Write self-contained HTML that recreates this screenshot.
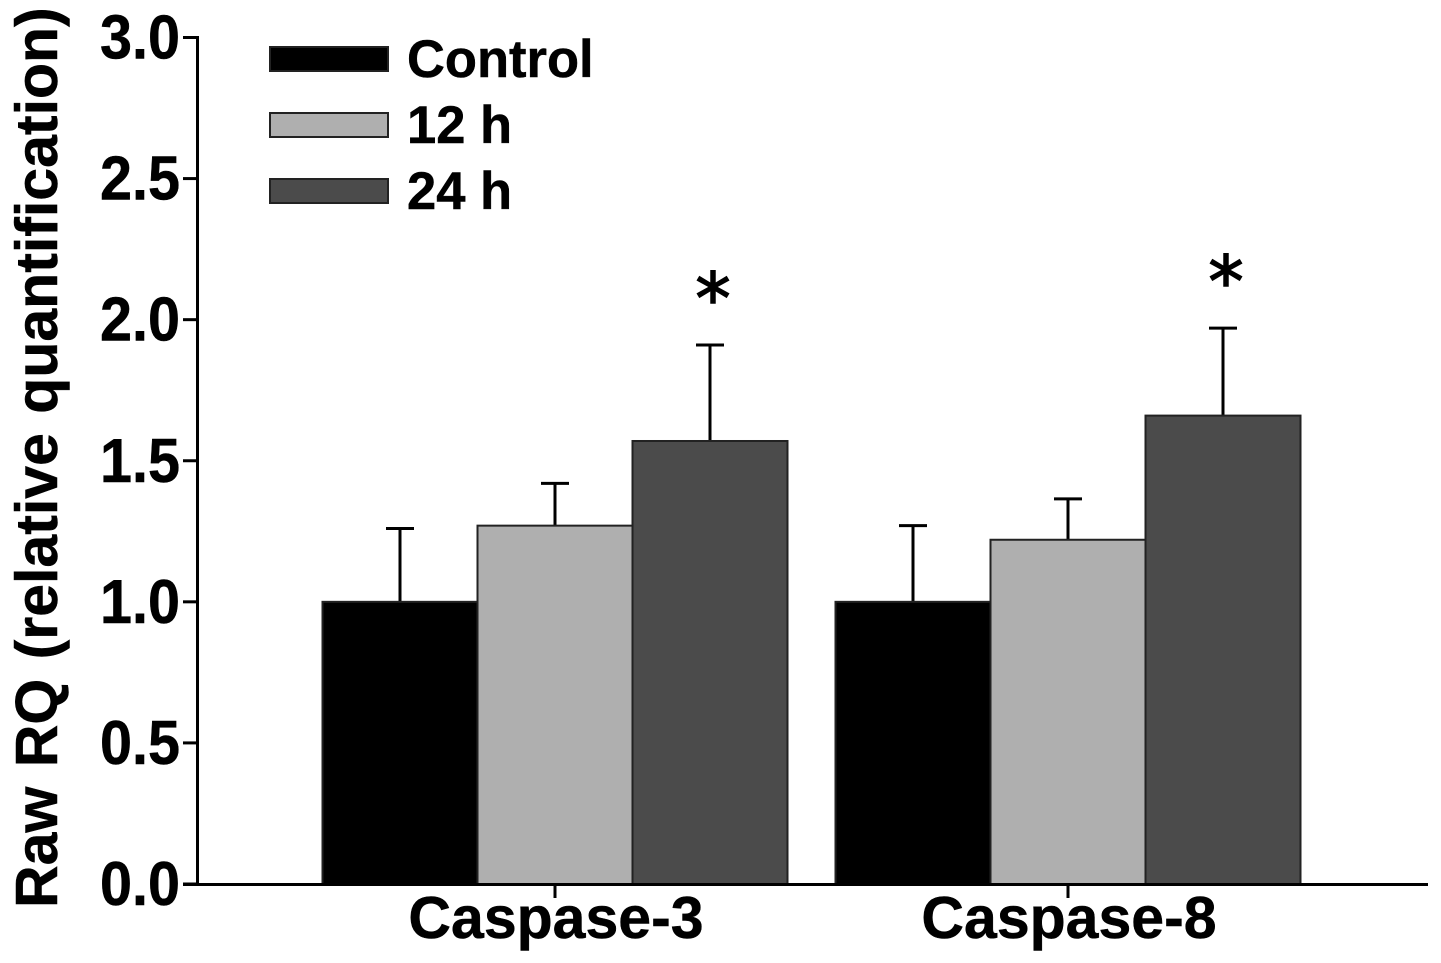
<!DOCTYPE html>
<html>
<head>
<meta charset="utf-8">
<title>Raw RQ chart</title>
<style>
html,body{margin:0;padding:0;background:#fff;width:1441px;height:963px;overflow:hidden}
svg{display:block}
text{font-family:"Liberation Sans",Arial,sans-serif;font-weight:bold;fill:#000;stroke:#000;stroke-width:0.5px}
</style>
</head>
<body>
<svg id="chart" xmlns="http://www.w3.org/2000/svg" width="1441" height="963" viewBox="0 0 1441 963"></svg>
<script>
const categories = ['Caspase-3', 'Caspase-8'];
const seriesNames = ['Control', '12 h', '24 h'];
const controlValues = [1.0, 1.0];
const h12Values = [1.27, 1.22];
const h24Values = [1.57, 1.66];
const controlErrors = [0.26, 0.27];
const h12Errors = [0.15, 0.145];
const h24Errors = [0.34, 0.31];
const significant = [true, true];
const yTicks = ['0.0', '0.5', '1.0', '1.5', '2.0', '2.5', '3.0'];
const yAxisTitle = 'Raw RQ (relative quantification)';

const svg = document.getElementById('chart');
const NS = 'http://www.w3.org/2000/svg';
const fills = ['#000000', '#afafaf', '#4b4b4b'];
const values = [controlValues, h12Values, h24Values];
const errors = [controlErrors, h12Errors, h24Errors];

function yScale(v) { return 884 - v * (884 - 37.5) / 3; }
function groupCenter(i) { return 555 + i * 513; }
function barLeft(g, s) { return groupCenter(g) - 232.5 + s * 155; }

function mk(tag, attrs, text) {
  const el = document.createElementNS(NS, tag);
  for (const k in attrs) el.setAttribute(k, attrs[k]);
  if (text !== undefined) el.textContent = text;
  svg.appendChild(el);
  return el;
}

// bars and error bars
categories.forEach(function (cat, g) {
  values.forEach(function (vals, s) {
    const x = barLeft(g, s);
    const cx = x + 77.5;
    const top = yScale(vals[g]);
    const errTop = yScale(vals[g] + errors[s][g]);
    const stem = mk('line', {x1: cx, x2: cx, y1: top, y2: errTop, stroke: '#000', 'stroke-width': 3});
    
    
    const cap = mk('line', {x1: cx - 14, x2: cx + 14, y1: errTop, y2: errTop, stroke: '#000', 'stroke-width': 3});
    
    
    const bar = mk('rect', {x: x, y: top, width: 155, height: 884 - top, fill: fills[s], stroke: '#222', 'stroke-width': 2});
    
    
  });
  if (significant[g]) {
    const topV = h24Values[g] + h24Errors[g];
    const star = mk('text', {x: groupCenter(g) + 158, y: yScale(topV) - 22, 'text-anchor': 'middle', 'font-size': 70, style: 'font-family:\'DejaVu Sans\',sans-serif;font-weight:normal;stroke-width:1.6px'}, '*');
    
    
  }
});

// axes
const yAxis = mk('line', {x1: 197.5, x2: 197.5, y1: 36, y2: 885.5, stroke: '#000', 'stroke-width': 3});


const xAxis = mk('line', {x1: 183, x2: 1428, y1: 884.5, y2: 884.5, stroke: '#000', 'stroke-width': 3});



yTicks.forEach(function (t) {
  const y = yScale(parseFloat(t));
  const tick = mk('line', {x1: 183, x2: 197, y1: y, y2: y, stroke: '#000', 'stroke-width': 3});
  
  
  const label = mk('text', {x: 180, y: y + 21, 'text-anchor': 'end', 'font-size': 62, textLength: 80, lengthAdjust: 'spacingAndGlyphs'}, t);
  
  
});

categories.forEach(function (cat, g) {
  const cx = groupCenter(g);
  const tick = mk('line', {x1: cx, x2: cx, y1: 884, y2: 898, stroke: '#000', 'stroke-width': 3});
  
  
  const label = mk('text', {x: cx + 1, y: 938, 'text-anchor': 'middle', 'font-size': 59}, cat);
  
  
});

// y axis title
const title = mk('text', {transform: 'translate(57,908) rotate(-90)', x: 0, y: 0, 'font-size': 59, 'word-spacing': 3}, yAxisTitle);



// legend
seriesNames.forEach(function (name, s) {
  const rowY = 47 + s * 66;
  const swatch = mk('rect', {x: 270, y: rowY, width: 118, height: 24, fill: fills[s], stroke: '#222', 'stroke-width': 2});
  
  
  const label = mk('text', {x: 407, y: rowY + 30, 'font-size': 52.5}, name);
  
  
});
</script>
</body>
</html>
